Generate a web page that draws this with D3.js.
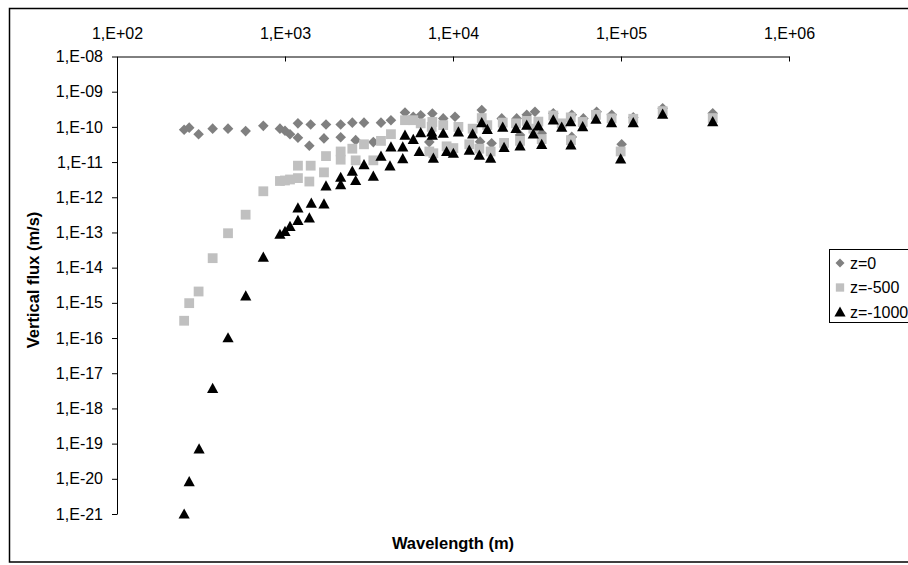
<!DOCTYPE html>
<html>
<head>
<meta charset="utf-8">
<script src="https://cdn.jsdelivr.net/npm/d3@7"></script>
<style>
  html, body { margin: 0; padding: 0; background: #fff; }
  svg text { font-family: "Liberation Sans", Arial, sans-serif; }
</style>
</head>
<body>
<svg id="chart" width="908" height="565"></svg>
<script>
// ---- data: [wavelength (m), vertical flux (m/s)] ----
const seriesNames = ["z=0", "z=-500", "z=-1000"];
const xTicks = [1e2, 1e3, 1e4, 1e5, 1e6];
const yTicks = [1e-8, 1e-9, 1e-10, 1e-11, 1e-12, 1e-13, 1e-14, 1e-15, 1e-16, 1e-17, 1e-18, 1e-19, 1e-20, 1e-21];

const z0 = [
  [251, 8.3e-11], [269, 9.5e-11], [306, 6.2e-11], [371, 8.9e-11], [458, 8.9e-11], [583, 7.6e-11],
  [743, 1.07e-10], [933, 8.9e-11], [1000, 7.8e-11], [1071, 6.2e-11], [1194, 4.9e-11], [1194, 1.26e-10],
  [1396, 2.9e-11], [1422, 1.17e-10], [1706, 4.7e-11], [1754, 1.17e-10], [2145, 5.1e-11], [2145, 1.17e-10],
  [2516, 1.32e-10], [2953, 1.32e-10], [2634, 4.2e-11], [3356, 3.7e-11], [3727, 1.32e-10], [4272, 1.55e-10],
  [5179, 2.57e-10], [5802, 1.95e-10], [6423, 2.14e-10], [7534, 2.4e-10], [7228, 3.7e-11], [8749, 1.74e-10],
  [10280, 1.95e-10], [14830, 3.0e-10], [19500, 1.74e-10], [23930, 1.74e-10], [27480, 2.2e-10], [30760, 2.7e-10],
  [39540, 2.45e-10], [50930, 2.2e-10], [59700, 1.74e-10], [71600, 2.7e-10], [88100, 2.2e-10], [118300, 1.86e-10],
  [177000, 3.4e-10], [351600, 2.45e-10],
  [16980, 3.4e-11], [100900, 3.2e-11], [14490, 3.8e-11], [25060, 5.9e-11], [33730, 6.6e-11], [50930, 5.2e-11]
];

const z500 = [
  [251, 3.1e-16], [269, 9.8e-16], [306, 2.1e-15], [371, 1.86e-14], [458, 9.5e-14], [583, 3.2e-13],
  [743, 1.48e-12], [933, 2.9e-12], [1000, 3.0e-12], [1071, 3.2e-12], [1194, 3.5e-12], [1194, 7.9e-12],
  [1396, 2.8e-12], [1422, 7.9e-12], [1706, 5.1e-12], [1754, 1.48e-11], [2145, 1.17e-11], [2145, 2.0e-11],
  [2516, 2.4e-11], [2634, 1.12e-11], [2953, 3.2e-11], [3356, 1.12e-11], [3727, 4.0e-11], [4272, 6.2e-11],
  [5179, 1.55e-10], [5802, 1.55e-10], [6423, 1.26e-10], [7534, 1.38e-10], [7228, 2.0e-11], [8749, 1.12e-10],
  [7470, 1.0e-10], [7640, 1.78e-11], [9160, 2.8e-11], [10050, 2.5e-11], [10770, 1.0e-10], [12500, 3.2e-11],
  [13090, 8.9e-11], [14350, 2.4e-11], [14830, 1.78e-10], [16000, 1.12e-10], [16750, 2.0e-11], [19770, 1.32e-10],
  [20140, 3.5e-11], [23710, 1.26e-10], [25060, 4.0e-11], [27480, 1.48e-10], [30060, 8.9e-11], [32210, 1.41e-10],
  [33730, 4.5e-11], [39540, 2.1e-10], [44360, 1.26e-10], [50230, 1.86e-10], [50350, 4.2e-11], [59160, 1.38e-10],
  [70960, 2.2e-10], [87900, 1.74e-10], [99540, 2.0e-11], [118300, 1.7e-10], [177000, 2.8e-10], [351600, 1.78e-10]
];

const z1000 = [
  [251, 1.0e-21], [269, 8.3e-21], [308, 7.1e-20], [371, 3.7e-18], [458, 1.02e-16], [584, 1.58e-15],
  [743, 2.0e-14], [933, 8.9e-14], [1000, 1.07e-13], [1071, 1.48e-13], [1194, 2.2e-13], [1194, 5.0e-13],
  [1396, 2.6e-13], [1434, 6.8e-13], [1706, 6.5e-13], [1754, 2.1e-12], [2145, 3.7e-12], [2145, 2.3e-12],
  [2516, 5.5e-12], [2634, 3.0e-12], [2953, 8.5e-12], [3356, 4.0e-12], [3727, 1.48e-11], [4272, 2.7e-11],
  [4217, 7.8e-12], [5023, 1.26e-11], [5023, 2.7e-11], [5179, 5.8e-11], [5802, 4.4e-11], [6296, 2.0e-11],
  [6423, 6.9e-11], [7534, 5.8e-11],
  [7470, 7.2e-11], [7640, 1.29e-11], [8750, 6.6e-11], [9160, 2.0e-11], [10050, 1.78e-11], [10770, 7.2e-11],
  [12500, 2.2e-11], [13090, 6.3e-11], [14350, 1.58e-11], [14830, 1.32e-10], [16000, 8.5e-11], [16750, 1.29e-11],
  [19770, 9.8e-11], [20140, 2.6e-11], [23710, 9.1e-11], [25060, 2.9e-11], [27480, 1.12e-10], [30060, 6.3e-11],
  [32210, 1.07e-10], [33730, 3.2e-11], [39540, 1.58e-10], [44360, 9.8e-11], [50230, 1.41e-10], [50350, 3.1e-11],
  [59160, 1.02e-10], [70960, 1.66e-10], [87900, 1.32e-10], [99540, 1.23e-11], [118300, 1.32e-10],
  [177000, 2.3e-10], [351600, 1.41e-10]
];

// ---- layout ----
const svg = d3.select("#chart");
const X0 = 117, X1 = 789, Y0 = 56.5, Y1 = 514;
const x = d3.scaleLog().domain([1e2, 1e6]).range([X0, X1]);
const y = d3.scaleLog().domain([1e-21, 1e-8]).range([Y1, Y0]);

const fmt = v => {
  const e = Math.round(Math.log10(v));
  return "1,E" + (e < 0 ? "-" : "+") + String(Math.abs(e)).padStart(2, "0");
};

// outer frame
svg.append("rect").attr("x", 9.5).attr("y", 8.5).attr("width", 960).attr("height", 553.5)
  .attr("fill", "none").attr("stroke", "#000").attr("stroke-width", 1.5);

// axes
const fontSize = 16;
const gx = svg.append("g").attr("transform", `translate(0,${Y0})`)
  .call(d3.axisTop(x).tickValues(xTicks).tickFormat(fmt).tickSizeInner(-5).tickSizeOuter(0).tickPadding(18));
const gy = svg.append("g").attr("transform", `translate(${X0},0)`)
  .call(d3.axisLeft(y).tickValues(yTicks).tickFormat(fmt).tickSizeInner(5).tickSizeOuter(0).tickPadding(9));
[gx, gy].forEach(g => {
  g.selectAll("text").attr("font-size", fontSize).attr("fill", "#000")
    .attr("font-family", '"Liberation Sans", Arial, sans-serif');
  g.selectAll("path, line").attr("stroke", "#000");
});

// axis titles
svg.append("text").attr("x", 453).attr("y", 549).attr("text-anchor", "middle")
  .attr("font-size", 16.5).attr("font-weight", "bold").text("Wavelength (m)");
svg.append("text").attr("transform", "translate(39,280) rotate(-90)").attr("text-anchor", "middle")
  .attr("font-size", 16.5).attr("font-weight", "bold").text("Vertical flux (m/s)");

// markers
const diamond = "M0,-5.3L5.3,0L0,5.3L-5.3,0Z";
const square = "M-4.9,-4.9H4.9V4.9H-4.9Z";
const triangle = "M0,-5.6L5.6,4.6H-5.6Z";
const styles = [
  { data: z0, path: diamond, fill: "#808080" },
  { data: z500, path: square, fill: "#c0c0c0" },
  { data: z1000, path: triangle, fill: "#000000" }
];
styles.forEach((s, i) => {
  svg.append("g").selectAll("path").data(s.data).join("path")
    .attr("d", s.path)
    .attr("transform", d => `translate(${x(d[0])},${y(d[1])})`)
    .attr("fill", s.fill);
});

// legend
const lg = svg.append("g");
lg.append("rect").attr("x", 829.5).attr("y", 249.5).attr("width", 120).attr("height", 73)
  .attr("fill", "#fff").attr("stroke", "#000").attr("stroke-width", 1);
seriesNames.forEach((name, i) => {
  const cy = 263 + i * 24.5;
  const sc = i === 2 ? 1 : 0.85;
  lg.append("path").attr("d", styles[i].path)
    .attr("transform", `translate(840,${cy}) scale(${sc})`).attr("fill", styles[i].fill);
  lg.append("text").attr("x", 850).attr("y", cy + 5.7).attr("font-size", fontSize).text(name);
});
</script>
</body>
</html>
